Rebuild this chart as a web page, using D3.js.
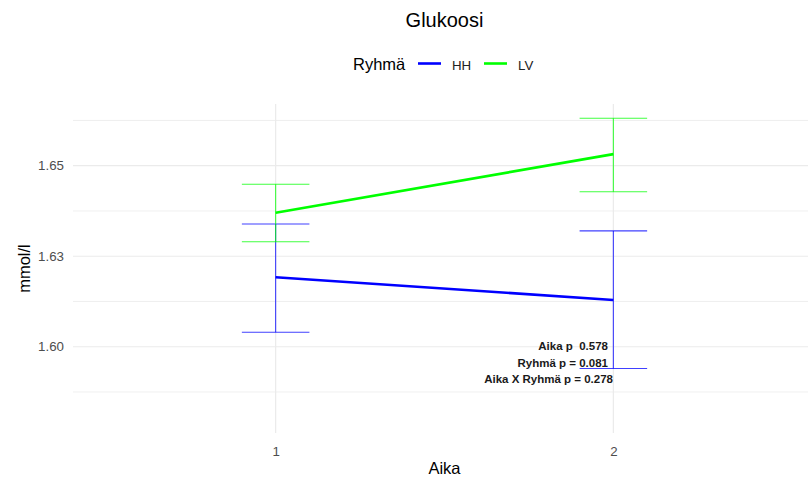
<!DOCTYPE html>
<html>
<head>
<meta charset="utf-8">
<script src="https://cdn.jsdelivr.net/npm/d3@7"></script>
<style>
  body { margin: 0; background: #fff; }
  svg { display: block; font-family: "Liberation Sans", Arial, sans-serif; }
</style>
</head>
<body>
<svg id="chart" width="808" height="483"></svg>
<script>
// Glucose means with error-bar bounds per group and time point
const times = [1, 2];
const groups = ["HH", "LV"];
const groupColors = ["#0000ff", "#00ff00"];
const meanHH = [1.6192, 1.6129];
const lowerHH = [1.6040, 1.5940];
const upperHH = [1.6339, 1.6320];
const meanLV = [1.6370, 1.6532];
const lowerLV = [1.6290, 1.6428];
const upperLV = [1.6449, 1.6631];
const yTicks = [1.600, 1.625, 1.650];
const yTickLabels = ["1.60", "1.63", "1.65"];
const yMinor = [1.5875, 1.6125, 1.6375, 1.6625];
const pLines = ["Aika p  0.578", "Ryhmä p = 0.081", "Aika X Ryhmä p = 0.278"];
const pRight = [608, 608, 613];

const series = [
  { name: groups[0], color: groupColors[0], mean: meanHH, lo: lowerHH, hi: upperHH },
  { name: groups[1], color: groupColors[1], mean: meanLV, lo: lowerLV, hi: upperLV }
];

const svg = d3.select("#chart");
const panel = { left: 73, right: 816, top: 104, bottom: 433 };

const x = d3.scaleLinear().domain([0.4, 2.6]).range([panel.left, panel.right]);
const y = d3.scaleLinear().domain([1.57617, 1.66705]).range([panel.bottom, panel.top]);

const grid = svg.append("g");
// minor horizontal gridlines
grid.selectAll("line.minor").data(yMinor).join("line")
  .attr("x1", panel.left).attr("x2", panel.right)
  .attr("y1", d => y(d)).attr("y2", d => y(d))
  .attr("stroke", "#ebebeb").attr("stroke-width", 0.8);
// major horizontal gridlines
grid.selectAll("line.major").data(yTicks).join("line")
  .attr("x1", panel.left).attr("x2", panel.right)
  .attr("y1", d => y(d)).attr("y2", d => y(d))
  .attr("stroke", "#ebebeb").attr("stroke-width", 1.2);
// vertical gridlines at each time point
grid.selectAll("line.vx").data(times).join("line")
  .attr("x1", d => x(d)).attr("x2", d => x(d))
  .attr("y1", panel.top).attr("y2", panel.bottom)
  .attr("stroke", "#ebebeb").attr("stroke-width", 1.2);

// y axis tick labels
const yAxis = d3.axisLeft(y).tickValues(yTicks)
  .tickFormat((d, i) => yTickLabels[i]).tickSize(0).tickPadding(0);
svg.append("g").attr("transform", `translate(${panel.left - 9},0)`).call(yAxis)
  .call(g => g.select(".domain").remove())
  .call(g => g.selectAll("text").attr("fill", "#4d4d4d").attr("font-size", 13.3)
    .attr("font-family", "Liberation Sans, Arial, sans-serif"));

// x axis tick labels
const xAxis = d3.axisBottom(x).tickValues(times).tickFormat(d3.format("d")).tickSize(0).tickPadding(0);
svg.append("g").attr("transform", `translate(0,${panel.bottom + 14})`).call(xAxis)
  .call(g => g.select(".domain").remove())
  .call(g => g.selectAll("text").attr("fill", "#4d4d4d").attr("font-size", 13.3)
    .attr("font-family", "Liberation Sans, Arial, sans-serif"));

// error bars
const capHalf = (x(1.1) - x(1));
series.forEach(s => {
  const g = svg.append("g").attr("stroke", s.color).attr("stroke-width", 1.1).attr("stroke-opacity", 0.75).attr("fill", "none");
  times.forEach((t, i) => {
    g.append("line").attr("x1", x(t)).attr("x2", x(t)).attr("y1", y(s.lo[i])).attr("y2", y(s.hi[i]));
    g.append("line").attr("x1", x(t) - capHalf).attr("x2", x(t) + capHalf).attr("y1", y(s.lo[i])).attr("y2", y(s.lo[i]));
    g.append("line").attr("x1", x(t) - capHalf).attr("x2", x(t) + capHalf).attr("y1", y(s.hi[i])).attr("y2", y(s.hi[i]));
  });
});

// mean lines
const line = d3.line().x((d, i) => x(times[i])).y(d => y(d));
series.forEach(s => {
  svg.append("path").datum(s.mean).attr("d", line)
    .attr("fill", "none").attr("stroke", s.color).attr("stroke-width", 2.6);
});

// p-value annotation
svg.append("g").selectAll("text").data(pLines).join("text")
  .attr("x", (d, i) => pRight[i]).attr("y", (d, i) => 350 + i * 16.6)
  .attr("text-anchor", "end").attr("font-size", 11.5).attr("font-weight", "bold")
  .attr("fill", "#1a1a1a").style("white-space", "pre")
  .text(d => d);

// title
svg.append("text").attr("x", (panel.left + panel.right) / 2).attr("y", 27)
  .attr("text-anchor", "middle").attr("font-size", 20).attr("fill", "#000").text("Glukoosi");

// axis titles
svg.append("text").attr("x", (panel.left + panel.right) / 2).attr("y", 474)
  .attr("text-anchor", "middle").attr("font-size", 16.5).attr("fill", "#000").text("Aika");
svg.append("text").attr("transform", `translate(30,${(panel.top + panel.bottom) / 2}) rotate(-90)`)
  .attr("text-anchor", "middle").attr("font-size", 16.5).attr("fill", "#000").text("mmol/l");

// legend
const legend = svg.append("g");
legend.append("text").attr("x", 353).attr("y", 70).attr("font-size", 16.5).attr("fill", "#000").text("Ryhmä");
const legendX = [418, 484];
series.forEach((s, i) => {
  legend.append("line").attr("x1", legendX[i]).attr("x2", legendX[i] + 23)
    .attr("y1", 63.5).attr("y2", 63.5).attr("stroke", s.color).attr("stroke-width", 2.6);
  legend.append("text").attr("x", legendX[i] + 34).attr("y", 70).attr("font-size", 13.3)
    .attr("fill", "#222").text(s.name);
});
</script>
</body>
</html>
